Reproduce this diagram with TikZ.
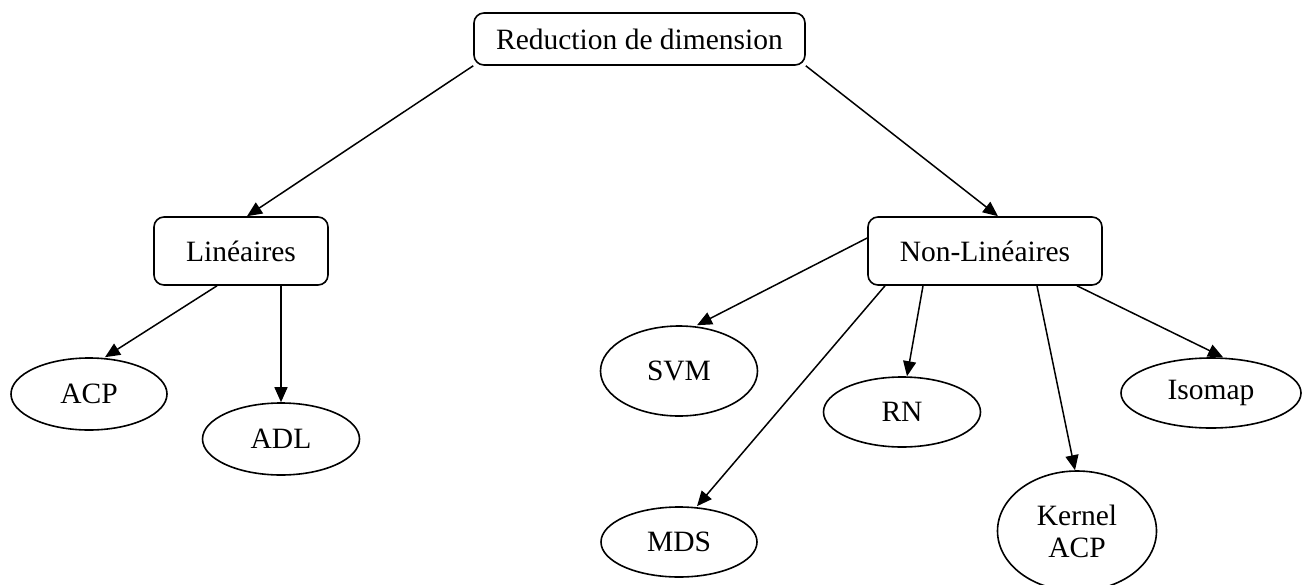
\documentclass[tikz,border=0pt]{standalone}
\usepackage{fontspec}
\setmainfont{Liberation Serif}
\usetikzlibrary{arrows.meta,shapes.geometric}
\begin{document}
\begin{tikzpicture}[x=1pt,y=-1pt,
  every node/.style={font=\fontsize{29.5}{32}\selectfont, inner sep=0pt, line width=1.6pt},
  box/.style={draw, rectangle, rounded corners=10pt},
  oval/.style={draw, ellipse},
  link/.style={line width=1.5pt, -{Triangle[length=15pt,width=13pt]}}]
\useasboundingbox (0,0) rectangle (1307,584);
\begin{scope}
\clip (0,0) rectangle (1307,584);
\node[box, minimum width=331pt, minimum height=52pt] (root) at (639.5,39) {Reduction de dimension};
\node[box, minimum width=174pt, minimum height=68pt] (lin) at (241,251) {Linéaires};
\node[box, minimum width=234pt, minimum height=68pt] (nonlin) at (985,251) {Non-Linéaires};
\node[oval, minimum width=156pt, minimum height=72pt] (acp) at (89,394) {ACP};
\node[oval, minimum width=157pt, minimum height=72pt] (adl) at (281,439) {ADL};
\node[oval, minimum width=157pt, minimum height=90pt] (svm) at (679,371) {SVM};
\node[oval, minimum width=157pt, minimum height=70pt] (rn) at (902,412) {RN};
\node[oval, minimum width=156pt, minimum height=70pt] (mds) at (679,542) {MDS};
\node[oval, minimum width=159pt, minimum height=120pt, align=center] (kern) at (1077,531) {Kernel\\ACP};
\node[oval, minimum width=180pt, minimum height=70pt] (iso) at (1211,393) {\raisebox{-3pt}{Isomap}};

\draw[link] (root.south west) -- ([xshift=6pt]lin.north);
\draw[link] (root.south east) -- ([xshift=13pt]nonlin.north);
\draw[link] ([xshift=-24pt]lin.south) -- ([xshift=16pt]acp.north);
\draw[link] ([xshift=40pt]lin.south) -- (adl.north);
\draw[link] ([yshift=13pt]nonlin.west) -- ([xshift=18pt]svm.north);
\draw[link] ([xshift=-100pt]nonlin.south) -- ([xshift=18pt]mds.north);
\draw[link] ([xshift=-62pt]nonlin.south) -- ([xshift=5pt]rn.north);
\draw[link] ([xshift=52pt]nonlin.south) -- ([xshift=-2pt]kern.north);
\draw[link] ([xshift=92pt]nonlin.south) -- ([xshift=12pt]iso.north);
\end{scope}
\end{tikzpicture}
\end{document}
